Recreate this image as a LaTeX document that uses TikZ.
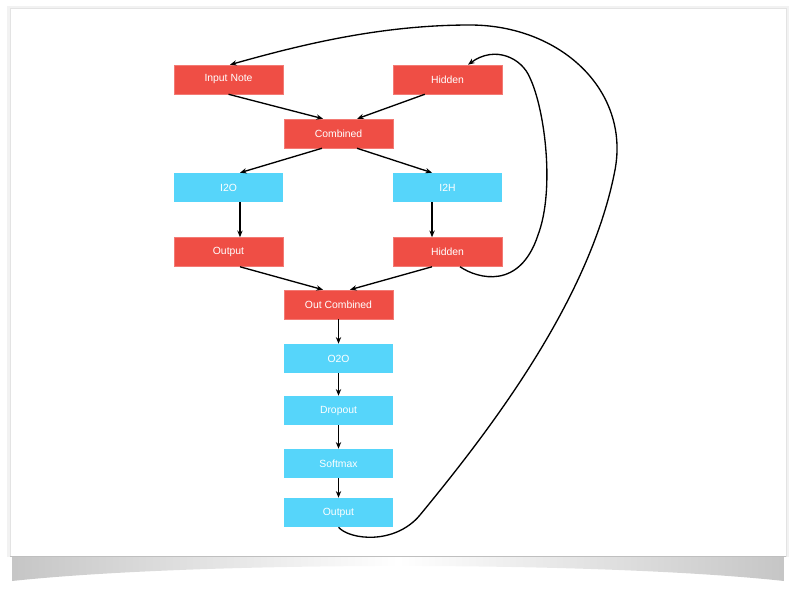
\documentclass[tikz,border=0pt]{standalone}
\usepackage{fontspec}
\setmainfont{Liberation Sans}
\usetikzlibrary{arrows.meta,backgrounds}

\definecolor{nodered}{HTML}{EF4E45}
\definecolor{nodeblue}{HTML}{56D5FA}

\begin{document}
\begin{tikzpicture}[x=0.75pt,y=-0.75pt,font=\fontsize{7.8}{9}\selectfont,
    block/.style={minimum width=81.75pt, minimum height=21.75pt, inner sep=0pt, text=white},
    redblock/.style={block, fill=nodered, draw=nodered!75!white, line width=0.4pt},
    blueblock/.style={block, fill=nodeblue},
    link/.style={->, line width=1pt},
    >={Stealth[length=5pt,width=4pt]}
    ]
    \useasboundingbox (0,0) rectangle (800,589);

    % upper half
    \node[redblock] (input) at (228.5,79.5) {Input Note};
    \node[redblock] (hidTop) at (447.5,79.5) {Hidden};
    \node[redblock] (comb) at (338.5,133.5) {Combined};
    \node[blueblock] (itoo) at (228.5,187.5) {I2O};
    \node[blueblock] (itoh) at (447.5,187.5) {I2H};
    \node[redblock] (out) at (228.5,252) {Output};
    \node[redblock] (hidBot) at (447.5,252) {Hidden};

    % lower column
    \node[redblock] (outComb) at (338.5,304.5) {Out Combined};
    \node[blueblock] (oto) at (338.5,358.5) {O2O};
    \node[blueblock] (drop) at (338.5,410.5) {Dropout};
    \node[blueblock] (soft) at (338.5,463.5) {Softmax};
    \node[blueblock] (outFinal) at (338.5,512.5) {Output};

    \draw[link] (input.south) -- ([xshift=-11.6pt]comb.north);
    \draw[link] ([xshift=-17pt]hidTop.south) -- ([xshift=14pt]comb.north);
    \draw[link] ([xshift=-12.4pt]comb.south) -- ([xshift=8.6pt]itoo.north);
    \draw[link] ([xshift=13.9pt]comb.south) -- ([xshift=-11.6pt]itoh.north);
    \draw[link] ([xshift=8.6pt]itoo.south) -- ([xshift=8.6pt]out.north);
    \draw[link] ([xshift=-11.6pt]itoh.south) -- ([xshift=-11.6pt]hidBot.north);
    \draw[link] ([xshift=8.6pt]out.south) -- ([xshift=-11.6pt]outComb.north);
    \draw[link] ([xshift=-11.6pt]hidBot.south) -- ([xshift=8.6pt]outComb.north);
    \draw[link] (outComb) -- (oto);
    \draw[link] (oto) -- (drop);
    \draw[link] (drop) -- (soft);
    \draw[link] (soft) -- (outFinal);

    % loops back
    \draw[link] ([xshift=9.4pt]hidBot.south) .. controls (478,279) and (520,290) .. (538,235)
        .. controls (555,190) and (545,110) .. (530,78)
        .. controls (522,58) and (495,45) .. ([xshift=15.4pt]hidTop.north);
    \draw[link] (outFinal.south) .. controls (350,540) and (395,545) .. (420,515)
        .. controls (490,430) and (590,300) .. (615,170)
        .. controls (630,90) and (560,25) .. (470,25)
        .. controls (380,25) and (300,45) .. ([xshift=1.1pt]input.north);

    \begin{scope}[on background layer]
    \shade[left color=gray!45, right color=gray!45, middle color=white]
        (12,556) -- (784,556) -- (784,581) .. controls (600,561) and (200,561) .. (12,581) -- cycle;
    \fill[gray!10] (7,6) rectangle (789,557);
    \fill[white, draw=gray!22] (10,8) rectangle (786,556);
    \draw[gray!50, line width=1.2pt] (10,556.5) -- (786,556.5);
    \end{scope}
\end{tikzpicture}
\end{document}
